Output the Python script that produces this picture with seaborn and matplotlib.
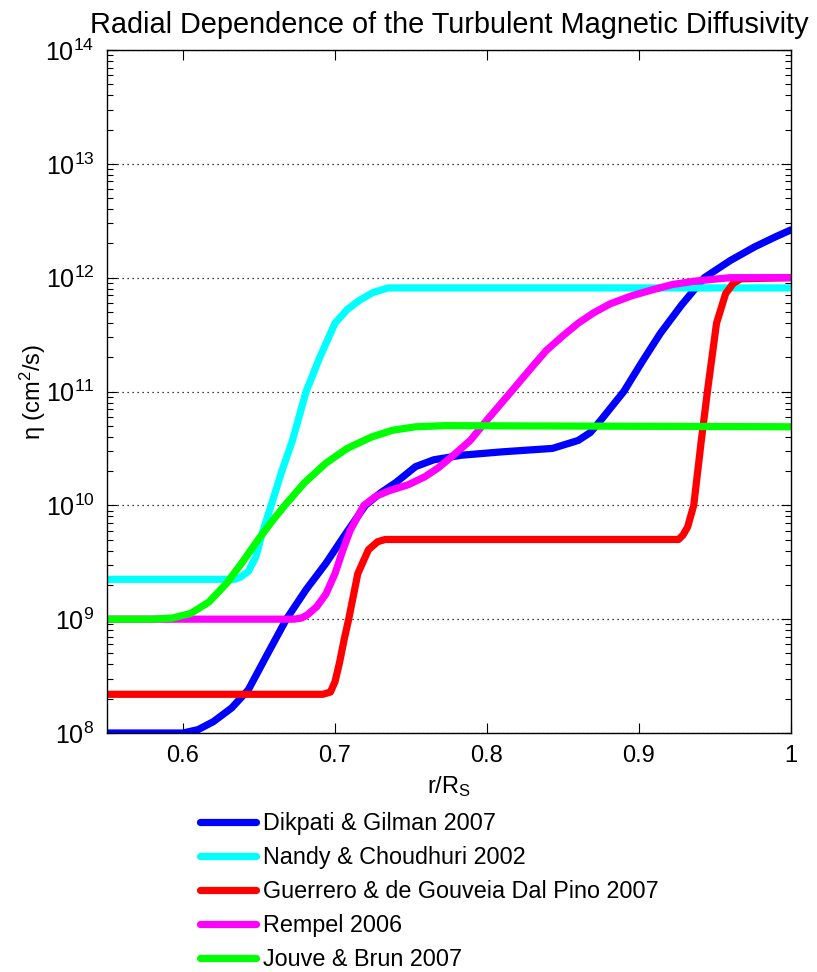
import numpy as np
import pandas as pd
import matplotlib
matplotlib.use("Agg")
import matplotlib.pyplot as plt
import seaborn as sns
from matplotlib.ticker import LogLocator

# ---- data (r/R_S, log10 eta) ----
blue_r = [0.55, 0.60, 0.61, 0.62, 0.632, 0.643, 0.655, 0.668, 0.681, 0.694, 0.707, 0.72, 0.73, 0.74, 0.753, 0.765,
          0.783, 0.81, 0.843, 0.86, 0.868, 0.875, 0.89, 0.902, 0.914, 0.928, 0.943, 0.96, 0.976, 0.99, 1.0]
blue_log = [8.0, 8.0, 8.03, 8.1, 8.22, 8.38, 8.68, 9.0, 9.26, 9.49, 9.75, 10.0, 10.11, 10.2, 10.34, 10.4,
            10.44, 10.47, 10.5, 10.57, 10.64, 10.75, 11.0, 11.26, 11.51, 11.76, 12.0, 12.15, 12.27, 12.36, 12.42]

cyan_r = [0.55, 0.634, 0.638, 0.643, 0.648, 0.652, 0.658, 0.665, 0.672, 0.681, 0.69, 0.70, 0.708, 0.716, 0.725, 0.735, 1.0]
cyan_log = [9.35, 9.35, 9.37, 9.42, 9.55, 9.75, 10.0, 10.3, 10.57, 11.0, 11.3, 11.6, 11.72, 11.8, 11.87, 11.91, 11.91]

red_r = [0.55, 0.692, 0.697, 0.700, 0.703, 0.706, 0.709, 0.712, 0.715, 0.722, 0.728, 0.733, 0.926, 0.929, 0.932,
         0.936, 0.941, 0.945, 0.951, 0.957, 0.962, 0.967, 1.0]
red_log = [8.34, 8.34, 8.36, 8.45, 8.62, 8.82, 9.0, 9.2, 9.40, 9.61, 9.68, 9.70, 9.70, 9.74, 9.81,
           10.0, 10.57, 11.0, 11.6, 11.86, 11.95, 11.99, 12.0]

mag_r = [0.55, 0.673, 0.678, 0.682, 0.688, 0.694, 0.70, 0.705, 0.71, 0.719, 0.727, 0.736, 0.748, 0.759, 0.768, 0.777,
         0.789, 0.80, 0.816, 0.828, 0.839, 0.85, 0.86, 0.87, 0.881, 0.895, 0.908, 0.922, 0.937, 0.96, 1.0]
mag_log = [9.0, 9.0, 9.01, 9.04, 9.11, 9.22, 9.40, 9.6, 9.78, 10.0, 10.08, 10.13, 10.18, 10.25, 10.33, 10.43,
           10.57, 10.75, 11.0, 11.19, 11.36, 11.49, 11.6, 11.69, 11.77, 11.84, 11.89, 11.94, 11.97, 12.0, 12.0]

green_r = [0.55, 0.58, 0.593, 0.605, 0.617, 0.629, 0.639, 0.649, 0.658, 0.667, 0.68, 0.694, 0.708, 0.724, 0.738, 0.753, 0.772, 1.0]
green_log = [9.0, 9.0, 9.01, 9.05, 9.15, 9.32, 9.5, 9.69, 9.85, 10.0, 10.2, 10.37, 10.5, 10.6, 10.66, 10.69, 10.70, 10.69]

labels = ["Dikpati & Gilman 2007", "Nandy & Choudhuri 2002",
          "Guerrero & de Gouveia Dal Pino 2007", "Rempel 2006", "Jouve & Brun 2007"]
colors = ["#0000ff", "#00ffff", "#ff0000", "#ff00ff", "#00ff00"]

series = [(blue_r, blue_log), (cyan_r, cyan_log), (red_r, red_log), (mag_r, mag_log), (green_r, green_log)]
frames = []
for lab, (r, lg) in zip(labels, series):
    frames.append(pd.DataFrame({"r": r, "eta": 10.0 ** np.array(lg), "model": lab}))
df = pd.concat(frames, ignore_index=True)

sns.set_style("ticks")
plt.rcParams["font.family"] = ["Liberation Sans", "DejaVu Sans"]
plt.rcParams["mathtext.fontset"] = "custom"
plt.rcParams["mathtext.rm"] = "Liberation Sans"
plt.rcParams["mathtext.it"] = "Liberation Sans:italic"
plt.rcParams["mathtext.bf"] = "Liberation Sans:bold"
for k in ["text.color", "axes.labelcolor", "xtick.color", "ytick.color", "axes.edgecolor"]:
    plt.rcParams[k] = "black"

W, H = 817, 972
fig = plt.figure(figsize=(W / 100, H / 100), dpi=100)
ax = fig.add_axes([107 / W, 1 - 733 / H, (791 - 107) / W, (733 - 50) / H])

sns.lineplot(data=df, x="r", y="eta", hue="model", hue_order=labels,
             palette=dict(zip(labels, colors)), estimator=None, sort=True,
             linewidth=5.2, ax=ax, legend=True)

ax.set_yscale("log")
ax.set_xlim(0.55, 1.0)
ax.set_ylim(1e8, 1e14)
ax.set_xticks([0.6, 0.7, 0.8, 0.9, 1.0])
ax.set_xticklabels(["0.6", "0.7", "0.8", "0.9", "1"])
ax.yaxis.set_major_locator(LogLocator(base=10, numticks=20))
ax.yaxis.set_minor_locator(LogLocator(base=10, subs=np.arange(2, 10), numticks=20))
ax.grid(False)
ax.yaxis.grid(True, which="major", linestyle=(0, (1, 3)), color="black", linewidth=0.9)
ax.tick_params(axis="both", which="both", direction="in", top=True, right=True, colors="black")
ax.tick_params(axis="x", which="major", labelsize=17, pad=9)
ax.tick_params(axis="y", which="major", labelsize=18, pad=9)
ax.tick_params(axis="both", which="major", length=7, width=0.8)
ax.tick_params(axis="y", which="minor", length=4, width=0.8)
ax.tick_params(axis="x", which="minor", length=0)
for s in ax.spines.values():
    s.set_linewidth(1.0)
    s.set_color("black")

ax.set_title("Radial Dependence of the Turbulent Magnetic Diffusivity", fontsize=20.8, pad=12)
ax.set_xlabel(r"r/R$_\mathregular{S}$", fontsize=17, labelpad=5)
ax.set_ylabel(r"η (cm$^\mathregular{2}$/s)", fontsize=17, labelpad=-2)

handles, labs = ax.get_legend_handles_labels()
ax.legend(handles=handles, labels=labs, loc="upper left",
          bbox_to_anchor=(200 / W, 1 - 812 / H), bbox_transform=fig.transFigure,
          frameon=False, fontsize=16.8, handlelength=2.4, handletextpad=0.3,
          labelspacing=0.47, borderpad=0, borderaxespad=0)
for lh in ax.get_legend().get_lines():
    lh.set_linewidth(5.2)

fig.savefig("out.png", dpi=100)
